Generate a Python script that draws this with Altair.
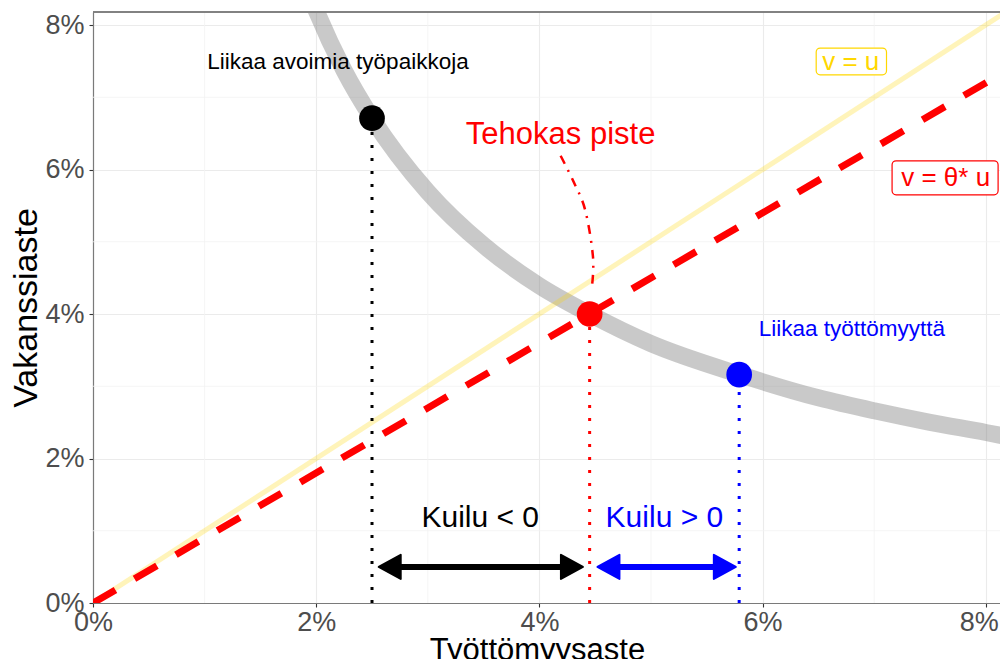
import altair as alt
import pandas as pd

FONT = "Liberation Sans"

# ---- data (percent units) ----
curve_u = [1.90, 2.00, 2.25, 2.50, 3.00, 3.50, 4.00, 4.45, 5.00, 5.80, 6.50, 7.00, 7.50, 8.00, 8.20]
curve_v = [8.59, 8.20, 7.37, 6.71, 5.69, 4.95, 4.39, 4.00, 3.59, 3.16, 2.84, 2.66, 2.50, 2.36, 2.30]

diag_u = [0.0, 8.2]
diag_v = [0.0, 8.2]
eff_u = [0.0, 8.2]
eff_v = [0.0, 7.38]

pt_u = [2.50, 4.45, 5.79]
pt_v = [6.71, 4.00, 3.16]
pt_col = ["#000000", "#FF0000", "#0000FF"]

lead_u = [4.19, 4.30, 4.41, 4.48, 4.47]
lead_v = [6.19, 5.85, 5.44, 4.79, 4.37]

arrow_y = [0.5, 0.5]
arrow_tip_l = [2.56, 4.52]
arrow_tip_r = [4.39, 5.76]
shaft_l = [2.66, 4.62]
shaft_r = [4.29, 5.66]
arrow_col = ["#000000", "#0000FF"]

minor_ticks = [1, 3, 5, 7]
major_ticks = [0, 2, 4, 6, 8]

txt_label = ["Liikaa avoimia työpaikkoja", "Tehokas piste", "Kuilu < 0", "Kuilu > 0", "Liikaa työttömyyttä"]
txt_u = [2.195, 4.19, 3.47, 5.12, 6.80]
txt_v = [7.49, 6.48, 1.18, 1.18, 3.79]
txt_col = ["#000000", "#FF0000", "#000000", "#0000FF", "#0000FF"]
txt_size = [22.5, 31, 30, 30, 22.5]

box_label = ["v = u", "v = θ* u"]
box_u = [6.79, 7.64]
box_v = [7.49, 5.88]
box_u1 = [6.48, 7.16]
box_u2 = [7.11, 8.11]
box_v1 = [7.31, 5.65]
box_v2 = [7.68, 6.12]
box_col = ["#FFD700", "#FF0000"]

W = 907
H = 591
XMAX = 8.127
YMAX = 8.18

xs = alt.Scale(domain=[0, XMAX], nice=False, zero=False)
ys = alt.Scale(domain=[0, YMAX], nice=False, zero=False)
x_axis = alt.Axis(
    values=major_ticks, labelExpr="datum.value + '%'", title="Työttömyysaste",
    labelOffset={"condition": {"test": "datum.value == 8", "value": -7}, "value": 0},
)
y_axis = alt.Axis(values=major_ticks, labelExpr="datum.value + '%'", title="Vakanssiaste")


def X(f):
    return alt.X(f, type="quantitative", scale=xs, axis=x_axis, title="Työttömyysaste")


def Y(f):
    return alt.Y(f, type="quantitative", scale=ys, axis=y_axis, title="Vakanssiaste")


minor_df = pd.DataFrame({"t": minor_ticks})
minor_x = alt.Chart(minor_df).mark_rule(color="#f3f3f3", strokeWidth=0.8).encode(x=X("t"))
minor_y = alt.Chart(minor_df).mark_rule(color="#f3f3f3", strokeWidth=0.8).encode(y=Y("t"))

top_border = alt.Chart(minor_df).mark_rule(color="#7a7a7a", strokeWidth=1.2).encode(
    y=alt.value(0), x=alt.value(0), x2=alt.value(W)
)

curve = alt.Chart(pd.DataFrame({"u": curve_u, "v": curve_v})).mark_line(
    color="#7f7f7f", opacity=0.42, strokeWidth=17, interpolate="monotone", clip=True
).encode(x=X("u"), y=Y("v"))

diag = alt.Chart(pd.DataFrame({"u": diag_u, "v": diag_v})).mark_line(
    color="#FFD700", opacity=0.27, strokeWidth=5, clip=True
).encode(x=X("u"), y=Y("v"))

eff = alt.Chart(pd.DataFrame({"u": eff_u, "v": eff_v})).mark_line(
    color="#FF0000", strokeWidth=7, strokeDash=[26, 22], clip=True
).encode(x=X("u"), y=Y("v"))

pts_df = pd.DataFrame({"u": pt_u, "v": pt_v, "c": pt_col, "z": [0.0] * 3})
drops = alt.Chart(pts_df).mark_rule(strokeWidth=3, strokeDash=[3, 10]).encode(
    x=X("u"), y=Y("z"), y2="v", color=alt.Color("c:N", scale=None)
)

lead = alt.Chart(pd.DataFrame({"u": lead_u, "v": lead_v, "i": list(range(len(lead_u)))})).mark_line(
    color="#FF0000", strokeWidth=2.5, strokeDash=[9, 7, 2, 7], interpolate="cardinal"
).encode(x=X("u"), y=Y("v"), order="i:Q")

points = alt.Chart(pts_df).mark_circle(size=660, opacity=1).encode(
    x=X("u"), y=Y("v"), color=alt.Color("c:N", scale=None)
)

arr_df = pd.DataFrame({"l": arrow_tip_l, "r": arrow_tip_r, "sl": shaft_l, "sr": shaft_r,
                       "y": arrow_y, "c": arrow_col})
shafts = alt.Chart(arr_df).mark_rule(strokeWidth=6).encode(
    x=X("sl"), x2="sr", y=Y("y"), color=alt.Color("c:N", scale=None)
)
heads_l = alt.Chart(arr_df).mark_point(
    shape="M0,0 L2,-1.1 L2,1.1 Z", size=484, filled=True, opacity=1,
    strokeWidth=2, strokeJoin="round"
).encode(x=X("l"), y=Y("y"), color=alt.Color("c:N", scale=None), stroke=alt.Stroke("c:N", scale=None))
heads_r = alt.Chart(arr_df).mark_point(
    shape="M0,0 L-2,-1.1 L-2,1.1 Z", size=484, filled=True, opacity=1,
    strokeWidth=2, strokeJoin="round"
).encode(x=X("r"), y=Y("y"), color=alt.Color("c:N", scale=None), stroke=alt.Stroke("c:N", scale=None))

txt_df = pd.DataFrame({"t": txt_label, "u": txt_u, "v": txt_v, "c": txt_col, "s": txt_size})
texts = alt.Chart(txt_df).mark_text(font=FONT, align="center", baseline="middle").encode(
    x=X("u"), y=Y("v"), text="t:N", color=alt.Color("c:N", scale=None),
    size=alt.Size("s:Q", scale=None)
)

box_df = pd.DataFrame({"t": box_label, "u": box_u, "v": box_v, "u1": box_u1, "u2": box_u2,
                       "v1": box_v1, "v2": box_v2, "c": box_col})
boxes = alt.Chart(box_df).mark_rect(fill="white", cornerRadius=4, strokeWidth=1.2).encode(
    x=X("u1"), x2="u2", y=Y("v1"), y2="v2", stroke=alt.Stroke("c:N", scale=None)
)
box_txt = alt.Chart(box_df).mark_text(font=FONT, fontSize=26, align="center", baseline="middle").encode(
    x=X("u"), y=Y("v"), text="t:N", color=alt.Color("c:N", scale=None)
)

chart = alt.layer(
    minor_x, minor_y, top_border, curve, diag, eff, drops, lead, points,
    shafts, heads_l, heads_r, texts, boxes, box_txt
).properties(
    width=W, height=H,
    autosize=alt.AutoSizeParams(type="none"),
    padding={"left": 85, "top": 4, "right": 0, "bottom": 56},
).configure_view(
    stroke=None
).configure_axis(
    grid=True, gridColor="#ebebeb", gridWidth=1.1,
    domain=True, domainColor="#7a7a7a", domainWidth=1.2,
    tickColor="#333333", tickSize=4, tickWidth=1.1,
    labelFont=FONT, labelFontSize=27, labelColor="#4d4d4d",
    labelFlush=False, labelOverlap=False,
    titleFont=FONT, titleFontWeight="normal", titleColor="#000000",
).configure_axisX(
    titlePadding=0, labelPadding=2, titleX=444, titleFontSize=31
).configure_axisY(
    titlePadding=1, labelPadding=5, titleFontSize=34
)

chart.save("out.html", embed_options={"renderer": "svg", "actions": False})
